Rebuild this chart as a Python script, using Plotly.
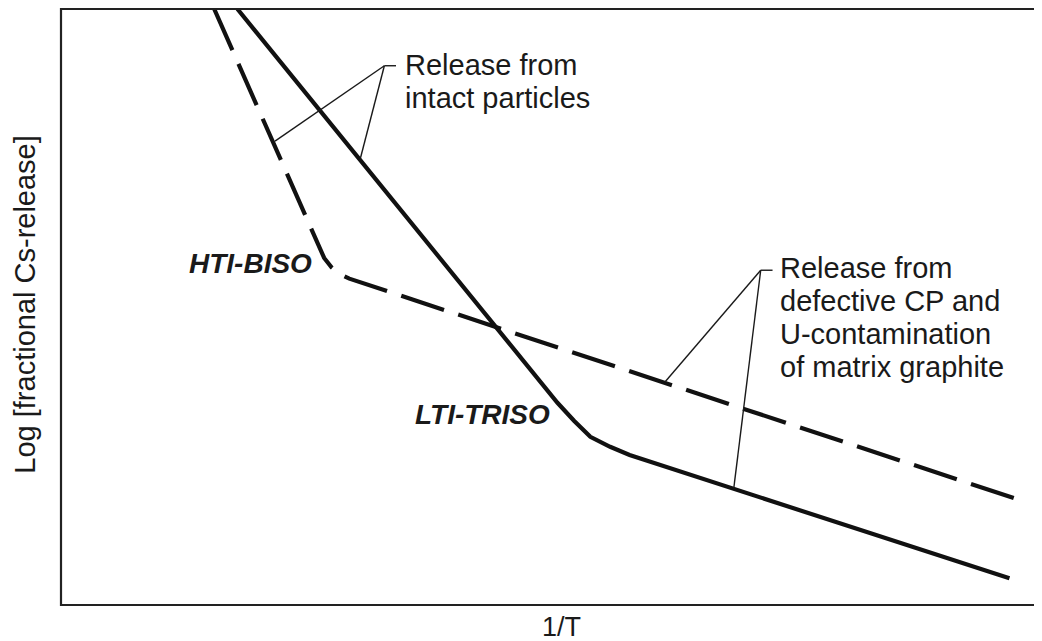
import plotly.graph_objects as go

# Data (arbitrary units: x = 1/T scale 0..100, y = log release scale 0..100)
biso_x = [15.65, 26.26, 26.88, 27.63, 28.49, 29.45, 98.42]
biso_y = [100.0, 60.20, 58.23, 56.67, 55.51, 54.76, 17.35]

triso_x = [18.02, 50.71, 52.40, 54.07, 56.09, 58.08, 96.88]
triso_y = [100.0, 33.93, 30.92, 28.23, 26.55, 25.17, 4.47]

# Callout leader lines: [elbow_x, elbow_end_x], elbow_y, targets
callA_elbow_x = [33.03, 34.22]
callA_elbow_y = 90.48
callA_targets_x = [21.86, 30.59]
callA_targets_y = [77.84, 75.0]

callB_elbow_x = [71.47, 72.68]
callB_elbow_y = 56.17
callB_targets_x = [61.69, 68.72]
callB_targets_y = [37.41, 19.56]

callA_lines = ["Release from", "intact particles"]
callA_x = 34.9
callA_y = [90.6, 85.15]

callB_lines = ["Release from", "defective CP and", "U-contamination", "of matrix graphite"]
callB_x = 73.2
callB_y = [56.5, 51.0, 45.5, 40.0]

labels = ["HTI-BISO", "LTI-TRISO"]
labels_x = [25.8, 50.2]
labels_y = [57.3, 31.9]

x_title = "1/T"
y_title = "Log [fractional Cs-release]"

FONT = "Arial, Liberation Sans, sans-serif"
INK = "#1a1a1a"

fig = go.Figure()
fig.add_trace(go.Scatter(x=biso_x, y=biso_y, mode="lines",
                         line=dict(color="#111", width=4.2, dash="45px,15px"),
                         hoverinfo="skip", showlegend=False))
fig.add_trace(go.Scatter(x=triso_x, y=triso_y, mode="lines",
                         line=dict(color="#111", width=4.2),
                         hoverinfo="skip", showlegend=False))

shapes = []
for ex, ey, tx, ty in [(callA_elbow_x, callA_elbow_y, callA_targets_x, callA_targets_y),
                       (callB_elbow_x, callB_elbow_y, callB_targets_x, callB_targets_y)]:
    shapes.append(dict(type="line", xref="x", yref="y", x0=ex[0], y0=ey, x1=ex[1], y1=ey,
                       line=dict(color=INK, width=1.4)))
    for a, b in zip(tx, ty):
        shapes.append(dict(type="line", xref="x", yref="y", x0=ex[0], y0=ey, x1=a, y1=b,
                           line=dict(color=INK, width=1.4)))
shapes.append(dict(type="rect", xref="paper", yref="paper", x0=0, y0=0, x1=1, y1=1,
                   line=dict(color="#222", width=2.2)))

annotations = []
for t, yy in zip(callA_lines, callA_y):
    annotations.append(dict(x=callA_x, y=yy, xref="x", yref="y", text=t, showarrow=False,
                            xanchor="left", yanchor="middle",
                            font=dict(family=FONT, size=29, color=INK)))
for t, yy in zip(callB_lines, callB_y):
    annotations.append(dict(x=callB_x, y=yy, xref="x", yref="y", text=t, showarrow=False,
                            xanchor="left", yanchor="middle",
                            font=dict(family=FONT, size=29, color=INK)))
for t, xx, yy in zip(labels, labels_x, labels_y):
    annotations.append(dict(x=xx, y=yy, xref="x", yref="y", text="<b><i>" + t + "</i></b>",
                            showarrow=False, xanchor="right", yanchor="middle",
                            font=dict(family=FONT, size=28, color=INK)))
annotations.append(dict(x=0.5113, y=-0.0375, xref="paper", yref="paper", text=x_title,
                        showarrow=False, xanchor="center", yanchor="middle",
                        font=dict(family=FONT, size=27, color=INK)))
annotations.append(dict(x=-0.0371, y=0.505, xref="paper", yref="paper", text=y_title,
                        showarrow=False, xanchor="center", yanchor="middle", textangle=-90,
                        font=dict(family=FONT, size=29, color=INK)))

# The page body adds an 8px offset, so the figure is 8px smaller and margins reduced.
fig.update_layout(
    width=1034, height=633,
    margin=dict(l=53, r=2, t=1, b=36),
    paper_bgcolor="white", plot_bgcolor="white",
    xaxis=dict(range=[0, 100], showgrid=False, zeroline=False, showticklabels=False,
               ticks="", showline=False, fixedrange=True),
    yaxis=dict(range=[0, 100], showgrid=False, zeroline=False, showticklabels=False,
               ticks="", showline=False, fixedrange=True),
    shapes=shapes, annotations=annotations, showlegend=False,
)

fig.write_html("out.html")
